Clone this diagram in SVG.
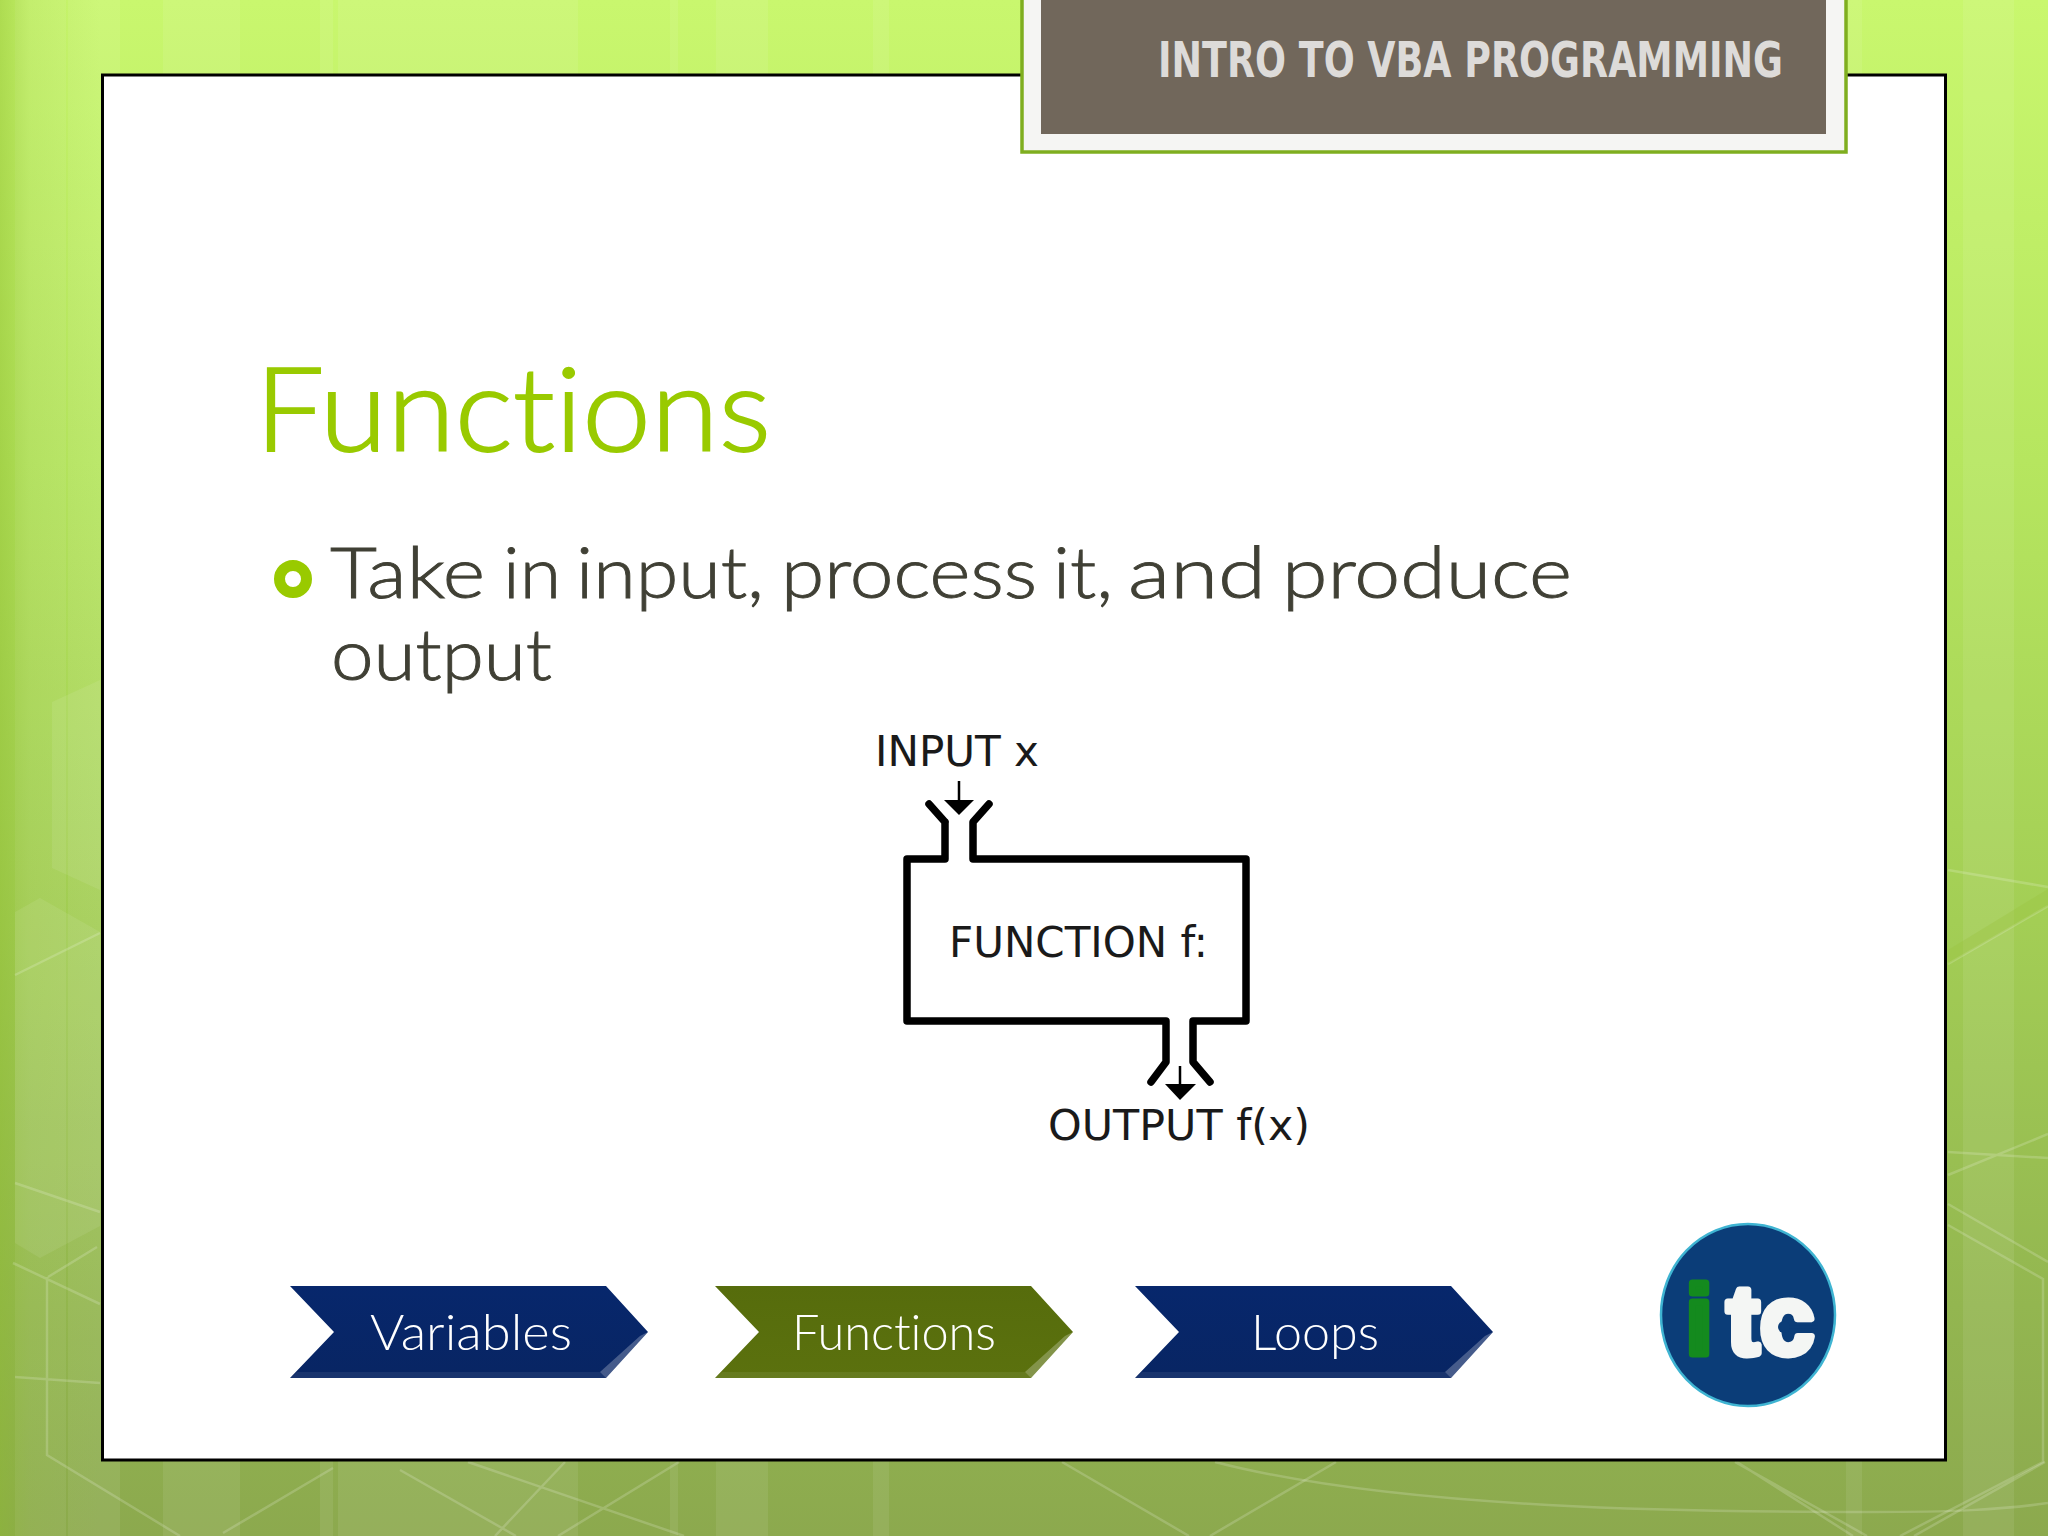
<svg xmlns="http://www.w3.org/2000/svg" width="2048" height="1536" viewBox="0 0 2048 1536">
<style>
.bl{fill:none;stroke:#fff;stroke-opacity:.18;stroke-width:2.5}
.st{fill:#fff;fill-opacity:.08}
.fc{fill:none;stroke:#000;stroke-width:7.5;stroke-linejoin:round;stroke-linecap:round}
.ar{fill:none;stroke:#000;stroke-width:2.5}
.lab{font-family:"DejaVu Sans",sans-serif;font-size:42px;fill:#1a1a1a}
.cap{font-family:Lato,"Liberation Sans",sans-serif;font-weight:300;font-variant-ligatures:none}
.chev{font-family:Lato,"Liberation Sans",sans-serif;font-weight:300;font-size:49px;fill:#fff;text-anchor:middle;font-variant-ligatures:none}
.bev{fill:#fff;fill-opacity:.25}
.bevb{fill:#fff;fill-opacity:.07}
</style>
<defs>
<linearGradient id="bg" x1="0" y1="0" x2="0" y2="1">
<stop offset="0" stop-color="#C9F76E"/><stop offset=".3" stop-color="#B6E65F"/><stop offset=".6" stop-color="#A3CE55"/><stop offset=".85" stop-color="#93B650"/><stop offset="1" stop-color="#8CA94E"/>
</linearGradient>
<linearGradient id="edge" x1="0" y1="0" x2="1" y2="0">
<stop offset="0" stop-color="#8DBB2E" stop-opacity=".45"/><stop offset=".3" stop-color="#8DBB2E" stop-opacity=".15"/><stop offset="1" stop-color="#8DBB2E" stop-opacity="0"/>
</linearGradient>
<linearGradient id="blue" x1="0" y1="0" x2="0" y2="1"><stop offset="0" stop-color="#07276C"/><stop offset="1" stop-color="#082563"/></linearGradient>
<linearGradient id="olive" x1="0" y1="0" x2="0" y2="1"><stop offset="0" stop-color="#566C0C"/><stop offset="1" stop-color="#5B710E"/></linearGradient>
<polygon id="shape" points="0,0 316,0 358,46 316,92 0,92 44,46"/>
<polygon id="facet" points="350,50 358,46 316,92 310,86"/>
<polygon id="base" points="7,86 310,86 316,92 0,92"/>
</defs>
<g id="background">
<rect width="2048" height="1536" fill="url(#bg)"/>
<rect x="15" width="51" height="1536" class="st"/>
<rect x="68" width="52" height="1536" class="st"/>
<rect x="163" width="77" height="1536" class="st"/>
<rect x="320" width="13" height="1536" class="st"/>
<rect x="338" width="240" height="1536" class="st"/>
<rect x="670" width="8" height="1536" class="st"/>
<rect x="716" width="52" height="1536" class="st"/>
<rect x="873" width="16" height="1536" class="st"/>
<rect x="1846" width="16" height="1536" class="st"/>
<rect x="1963" width="51" height="1536" class="st"/>
<rect width="100" height="1536" fill="url(#edge)"/>
<polygon points="52,702 100,680 100,890 52,868" class="st"/>
<polygon points="15,912 40,898 100,932 100,1226 40,1258 15,1243" class="st"/>
<path class="bl" d="M15 975L100 933M15 1183L100 1212M13 1263L100 1304M48 1277L97 1247M15 1377L100 1383M47 1277V1455L180 1536M333 1468L223 1533"/>
<path class="bl" d="M468 1462L684 1536M565 1462L495 1536M679 1462L558 1536M400 1470L516 1536M1062 1462L1189 1536M1336 1462L1210 1536M1735 1462L1867 1536M2045 1462L1914 1536M1737 1462L1853 1536"/>
<path class="bl" stroke-width="4" d="M1215 1462C1400 1510 1700 1512 1872 1512C1950 1512 2000 1510 2048 1503"/>
<path class="bl" d="M1948 870L2048 887M1948 964L2048 906M1948 1152L2048 1158M1948 1175L2048 1134M1948 1204L2048 1262M1948 1225L2043 1279V1462L1900 1536"/>
<polygon points="1948,950 2048,889 2048,906 1948,964" fill="#9cc23f" fill-opacity=".35"/>
</g>
<g id="panel">
<rect x="102.500" y="75" width="1843" height="1385" fill="#fff" stroke="#000" stroke-width="3"/>
</g>
<g id="header">
<rect x="1022" y="-4" width="824" height="156" fill="#F5F5F3" stroke="#7FAE1F" stroke-width="3.500"/>
<rect x="1041" y="0" width="785" height="134" fill="#71675B"/>
<text x="1158" y="77" font-family="'DejaVu Sans Condensed','DejaVu Sans',sans-serif" font-weight="700" font-size="49" fill="#DDDBD9" textLength="625" lengthAdjust="spacingAndGlyphs">INTRO TO VBA PROGRAMMING</text>
</g>
<g id="title">
<text class="cap" x="255" y="451" font-size="117" fill="#99CA00" stroke="#99CA00" stroke-width="1.800" textLength="516" lengthAdjust="spacingAndGlyphs">Functions</text>
</g>
<g id="body">
<circle cx="293" cy="579" r="13.500" fill="none" stroke="#99CA00" stroke-width="11"/>
<text class="cap" y="598" font-size="71" fill="#404035" stroke="#404035" stroke-width=".9"><tspan x="330" textLength="155" lengthAdjust="spacingAndGlyphs">Take</tspan> <tspan x="503" textLength="58" lengthAdjust="spacingAndGlyphs">in</tspan> <tspan x="576" textLength="188" lengthAdjust="spacingAndGlyphs">input,</tspan> <tspan x="781" textLength="256" lengthAdjust="spacingAndGlyphs">process</tspan> <tspan x="1053" textLength="60" lengthAdjust="spacingAndGlyphs">it,</tspan> <tspan x="1128" textLength="138" lengthAdjust="spacingAndGlyphs">and</tspan> <tspan x="1282" textLength="290" lengthAdjust="spacingAndGlyphs">produce</tspan></text>
<text class="cap" x="331" y="680" font-size="71" fill="#404035" stroke="#404035" stroke-width=".9" textLength="221" lengthAdjust="spacingAndGlyphs">output</text>
</g>
<g id="function-box">
<path class="fc" d="M945 822V859H907V1021H1166V1062L1151 1082M1210 1082L1193 1062V1021H1246V859H973V822L989 804M929 804L945 822"/>
<text class="lab" x="949" y="957" textLength="259" lengthAdjust="spacingAndGlyphs">FUNCTION f:</text>
</g>
<g id="input-label"><text class="lab" x="875" y="766" textLength="164" lengthAdjust="spacingAndGlyphs">INPUT x</text></g>
<g id="output-label"><text class="lab" x="1048" y="1140" textLength="262" lengthAdjust="spacingAndGlyphs">OUTPUT f(x)</text></g>
<g id="connectors">
<path class="ar" d="M959 781V802M1180 1066V1086"/>
<polygon points="944,800 974,800 959,815"/>
<polygon points="1165,1084 1196,1084 1180,1100"/>
</g>
<g id="nav-variables" transform="translate(290,1286)">
<use href="#shape" fill="url(#blue)"/><use href="#facet" class="bev"/><use href="#base" class="bevb"/>
<text class="chev" x="181" y="64" textLength="202" lengthAdjust="spacingAndGlyphs">Variables</text>
</g>
<g id="nav-functions" transform="translate(715,1286)">
<use href="#shape" fill="url(#olive)"/><use href="#facet" class="bev"/><use href="#base" class="bevb"/>
<text class="chev" x="179" y="64" textLength="204" lengthAdjust="spacingAndGlyphs">Functions</text>
</g>
<g id="nav-loops" transform="translate(1135,1286)">
<use href="#shape" fill="url(#blue)"/><use href="#facet" class="bev"/><use href="#base" class="bevb"/>
<text class="chev" x="180" y="64" textLength="128" lengthAdjust="spacingAndGlyphs">Loops</text>
</g>
<g id="logo">
<ellipse cx="1748" cy="1315" rx="87" ry="91" fill="#0B3D78" stroke="#3FB4D2" stroke-width="2.500"/>
<g font-family="'Liberation Sans',sans-serif" font-weight="700" font-size="98" stroke-width="7" stroke-linejoin="round">
<text x="1699" y="1354" text-anchor="middle" fill="#148A1E" stroke="#148A1E">i</text>
<text x="1743" y="1354" text-anchor="middle" fill="#F4F6F4" stroke="#F4F6F4">t</text>
<text x="1787" y="1354" text-anchor="middle" fill="#F4F6F4" stroke="#F4F6F4">c</text>
</g>
<path d="M1784 1327H1818" stroke="#0B3D78" stroke-width="3" fill="none"/>
<circle cx="1784" cy="1327" r="6" fill="#0B3D78"/>
</g>
</svg>
